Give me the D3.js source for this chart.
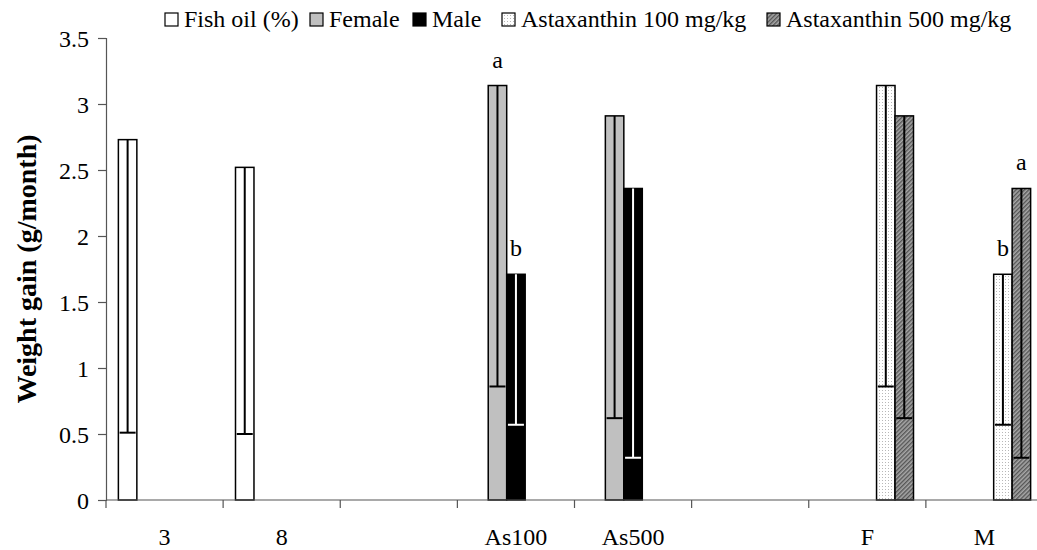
<!DOCTYPE html>
<html>
<head>
<meta charset="utf-8">
<script src="https://cdn.jsdelivr.net/npm/d3@7"></script>
<style>
  html, body { margin: 0; padding: 0; background: #fff; }
  svg { display: block; }
</style>
</head>
<body>
<svg id="chart" width="1037" height="550"></svg>
<script>
// ---- data ----
const categories = ["c3", "c8", "blank1", "As100", "As500", "blank2", "F", "M"];
const tickLabels = ["3", "8", "", "As100", "As500", "", "F", "M"];
const seriesNames = ["Fish oil (%)", "Female", "Male", "Astaxanthin 100 mg/kg", "Astaxanthin 500 mg/kg"];

const fishOil    = [2.73, 2.52, 0, 0, 0, 0, 0, 0];
const fishOilErr = [2.22, 2.02, 0, 0, 0, 0, 0, 0];
const female     = [0, 0, 0, 3.14, 2.91, 0, 0, 0];
const femaleErr  = [0, 0, 0, 2.28, 2.29, 0, 0, 0];
const male       = [0, 0, 0, 1.71, 2.36, 0, 0, 0];
const maleErr    = [0, 0, 0, 1.14, 2.04, 0, 0, 0];
const as100      = [0, 0, 0, 0, 0, 0, 3.14, 1.71];
const as100Err   = [0, 0, 0, 0, 0, 0, 2.28, 1.14];
const as500      = [0, 0, 0, 0, 0, 0, 2.91, 2.36];
const as500Err   = [0, 0, 0, 0, 0, 0, 2.29, 2.04];

const yTicks = [0, 0.5, 1, 1.5, 2, 2.5, 3, 3.5];

// significance letters
const letterCats   = ["As100", "As100", "M", "M"];
const letterSeries = [1, 2, 3, 4];
const letterText   = ["a", "b", "b", "a"];

const seriesValues = [fishOil, female, male, as100, as500];
const seriesErrors = [fishOilErr, femaleErr, maleErr, as100Err, as500Err];

// ---- layout ----
const FONT = '"Liberation Serif", Tinos, "Times New Roman", Times, "DejaVu Serif", "Noto Serif", serif';
const svg = d3.select("#chart").style("font-family", FONT);
const mLeft = 106, mRight = 1043, mTop = 38, mBottom = 500;
const legendStarts = [165, 310, 413, 502, 767];

const defs = svg.append("defs");
const dots = defs.append("pattern").attr("id", "dots").attr("patternUnits", "userSpaceOnUse")
  .attr("width", 3).attr("height", 3);
dots.append("rect").attr("width", 3).attr("height", 3).attr("fill", "#ffffff");
dots.append("rect").attr("width", 1).attr("height", 1).attr("fill", "#b8b8b8");

const hatch = defs.append("pattern").attr("id", "hatch").attr("patternUnits", "userSpaceOnUse")
  .attr("width", 3).attr("height", 3).attr("patternTransform", "rotate(45)");
hatch.append("rect").attr("width", 3).attr("height", 3).attr("fill", "#a8a8a8");
hatch.append("rect").attr("width", 1.4).attr("height", 3).attr("fill", "#555555");

const fills = ["#ffffff", "#c0c0c0", "#000000", "url(#dots)", "url(#hatch)"];
const errColors = ["#000", "#000", "#fff", "#000", "#000"];

const x = d3.scaleBand().domain(categories).range([mLeft, mRight]).paddingInner(0).paddingOuter(0);
const xs = d3.scaleBand().domain(d3.range(seriesNames.length)).range([0, x.bandwidth()])
  .paddingInner(0).paddingOuter(0.67);
const y = d3.scaleLinear().domain([0, 3.5]).range([mBottom, mTop]);

function txt(sel) { return sel.style("font-family", FONT).attr("fill", "#000"); }

// y axis
const yAxis = d3.axisLeft(y).tickValues(yTicks).tickSize(8).tickFormat(d => String(d));
const gy = svg.append("g").attr("transform", `translate(${mLeft},0)`).call(yAxis)
  .attr("font-family", null).attr("font-size", null);
gy.select(".domain").attr("stroke", "#555").attr("stroke-width", 1.2);
gy.selectAll(".tick line").attr("stroke", "#555").attr("stroke-width", 1.2);
txt(gy.selectAll(".tick text").attr("x", -17).attr("dy", "0.34em").attr("font-size", 24));

// bars
seriesValues.forEach((vals, si) => {
  const g = svg.append("g");
  categories.forEach((c, ci) => {
    const v = vals[ci];
    if (!v) return;
    const bx = x(c) + xs(si);
    const bw = xs.bandwidth();
    g.append("rect")
      .attr("x", bx).attr("y", y(v))
      .attr("width", bw).attr("height", y(0) - y(v))
      .attr("fill", fills[si]).attr("stroke", "#000").attr("stroke-width", 1.5);
    const e = seriesErrors[si][ci];
    if (e) {
      const cx = bx + bw / 2;
      g.append("line").attr("x1", cx).attr("x2", cx).attr("y1", y(v)).attr("y2", y(v - e))
        .attr("stroke", errColors[si]).attr("stroke-width", 2);
      g.append("line").attr("x1", cx - 8).attr("x2", cx + 8).attr("y1", y(v - e)).attr("y2", y(v - e))
        .attr("stroke", errColors[si]).attr("stroke-width", 2);
    }
  });
});

// x axis
const gx = svg.append("g").attr("transform", `translate(0,${mBottom})`);
gx.append("line").attr("x1", mLeft).attr("x2", mRight).attr("y1", 0).attr("y2", 0)
  .attr("stroke", "#555").attr("stroke-width", 1.2);
categories.forEach((c, i) => {
  gx.append("line").attr("x1", x(c)).attr("x2", x(c)).attr("y1", 0).attr("y2", 8)
    .attr("stroke", "#555").attr("stroke-width", 1.2);
  txt(gx.append("text").attr("x", x(c) + x.bandwidth() / 2).attr("y", 45)
    .attr("text-anchor", "middle").attr("font-size", 24).text(tickLabels[i]));
});

// letters
letterText.forEach((t, i) => {
  const ci = categories.indexOf(letterCats[i]);
  const si = letterSeries[i];
  const v = seriesValues[si][ci];
  txt(svg.append("text")
    .attr("x", x(letterCats[i]) + xs(si) + xs.bandwidth() / 2)
    .attr("y", y(v) - 18)
    .attr("text-anchor", "middle").attr("font-size", 24).text(t));
});

// y title
txt(svg.append("text")
  .attr("transform", `translate(36,${(mTop + mBottom) / 2}) rotate(-90)`)
  .attr("text-anchor", "middle").attr("font-size", 28).attr("font-weight", "bold")
  .text("Weight gain (g/month)"));

// legend
const lg = svg.append("g");
seriesNames.forEach((name, si) => {
  const lx = legendStarts[si];
  lg.append("rect").attr("x", lx).attr("y", 13).attr("width", 13).attr("height", 13)
    .attr("fill", fills[si]).attr("stroke", "#000").attr("stroke-width", 1.2);
  txt(lg.append("text").attr("x", lx + 19).attr("y", 27).attr("font-size", 24).text(name));
});
</script>
</body>
</html>
